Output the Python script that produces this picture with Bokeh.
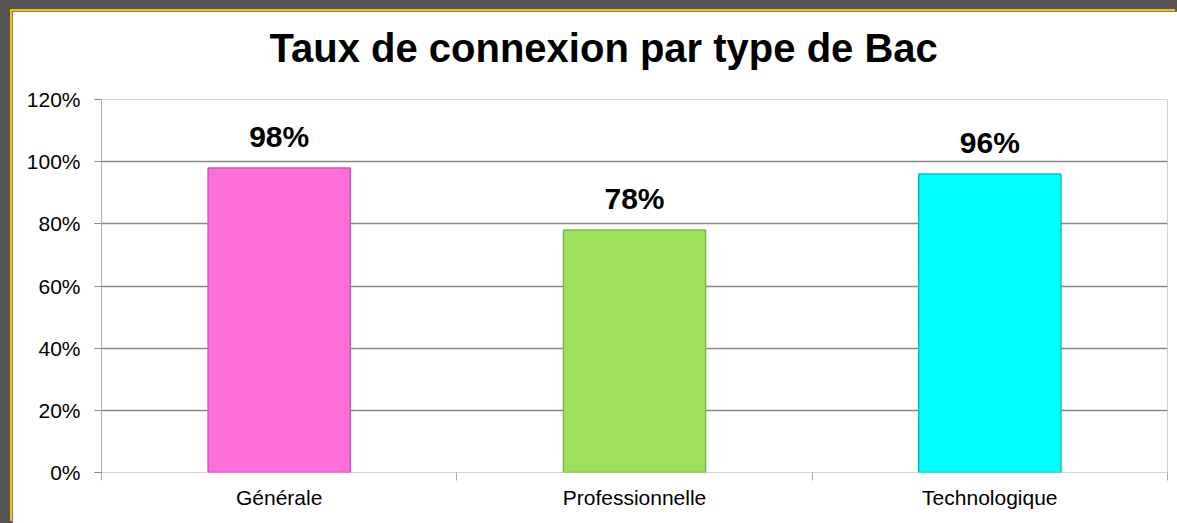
from bokeh.plotting import figure
from bokeh.models import (ColumnDataSource, FixedTicker, NumeralTickFormatter, LabelSet,
                          Range1d, GlobalInlineStyleSheet, Title)
from bokeh.core.properties import value
from bokeh.embed import file_html
from bokeh.resources import INLINE

title = "Taux de connexion par type de Bac"
categories = ["Générale", "Professionnelle", "Technologique"]
values = [0.98, 0.78, 0.96]
colors = ["#FF6ED9", "#9EDF5E", "#00FFFF"]
edge_colors = ["#D94FB8", "#7DBA44", "#00C8C8"]
y_ticks = [0, 0.2, 0.4, 0.6, 0.8, 1.0, 1.2]

xs = [i + 0.5 for i in range(len(categories))]
labels = [f"{round(v * 100)}%" for v in values]
src = ColumnDataSource(dict(x=xs, top=values, color=colors, edge=edge_colors, label=labels))

FONT = "Liberation Sans"

p = figure(width=1165, height=512, output_backend="svg", toolbar_location=None, title=None,
           x_range=Range1d(0, len(categories)), y_range=Range1d(0, 1.2),
           min_border_left=89, min_border_right=10, min_border_top=88, min_border_bottom=51,
           border_fill_color="white", background_fill_color="white", outline_line_color=None)

p.stylesheets = [GlobalInlineStyleSheet(css="body{background:#555555;margin:0;overflow:hidden;}")]
p.styles = {"margin-left": "12px", "margin-top": "11px",
            "box-shadow": "-2px -2px 0 0 #FFC000"}

# small spacer panel between the plot frame and the title
p.add_layout(Title(text=" ", text_font_size="1px", standoff=15), "above")
# the chart title (added after, so it sits above the spacer)
p.add_layout(Title(text=title, text_font=FONT, text_font_size="40px", text_font_style="bold",
                   text_color="black", align="left", vertical_align="top",
                   offset=168, standoff=20), "above")

p.vbar(x="x", top="top", width=0.4, bottom=0, source=src, fill_color="color",
       line_color="edge", line_width=1.5)

p.add_layout(LabelSet(x="x", y="top", text="label", source=src, y_offset=21,
                      text_align="center", text_baseline="alphabetic",
                      text_font=value(FONT), text_font_size=value("30px"),
                      text_font_style=value("bold"), text_color="black"))

# y axis
p.yaxis.ticker = FixedTicker(ticks=y_ticks)
p.yaxis.formatter = NumeralTickFormatter(format="0%")
p.yaxis.axis_line_color = "#AAAAAA"
p.yaxis.major_tick_line_color = "#888888"
p.yaxis.major_tick_out = 7
p.yaxis.major_tick_in = 0
p.yaxis.minor_tick_line_color = None
p.yaxis.major_label_text_font = FONT
p.yaxis.major_label_text_font_size = "21px"
p.yaxis.major_label_text_color = "black"
p.yaxis.major_label_standoff = 14

# x axis
p.xaxis.ticker = FixedTicker(ticks=xs, minor_ticks=list(range(len(categories) + 1)))
p.xaxis.major_label_overrides = {x: c for x, c in zip(xs, categories)}
p.xaxis.axis_line_color = None
p.xaxis.major_tick_line_color = None
p.xaxis.minor_tick_line_color = "#AAAAAA"
p.xaxis.minor_tick_out = 8
p.xaxis.minor_tick_in = 0
p.xaxis.major_label_text_font = FONT
p.xaxis.major_label_text_font_size = "21px"
p.xaxis.major_label_text_color = "black"
p.xaxis.major_label_standoff = 5

p.xgrid.grid_line_color = None
p.ygrid.ticker = FixedTicker(ticks=y_ticks)
p.ygrid.grid_line_color = "#888888"
p.ygrid.grid_line_width = 1.3

open("out.html", "w").write(file_html(p, INLINE))
